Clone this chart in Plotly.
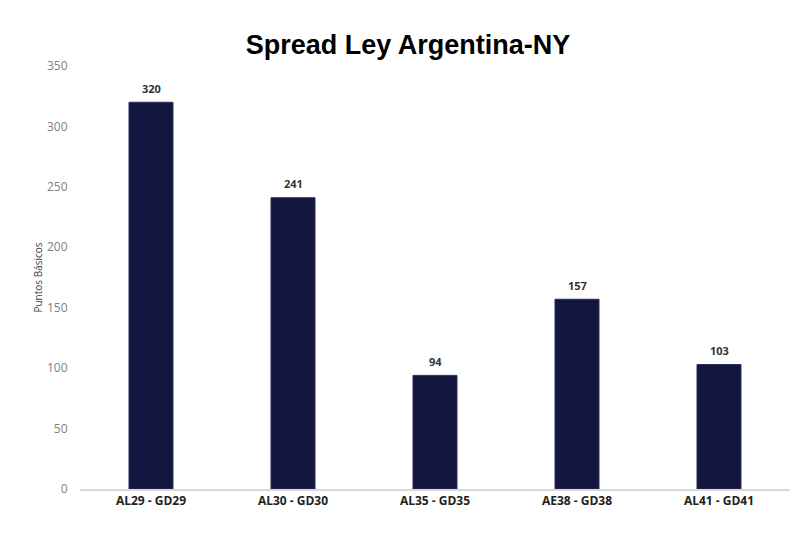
import plotly.graph_objects as go

# Spread ley argentina vs ley NY (puntos basicos)
bonos = ["AL29 - GD29", "AL30 - GD30", "AL35 - GD35", "AE38 - GD38", "AL41 - GD41"]
spread = [320, 241, 94, 157, 103]
y_ticks = [0, 50, 100, 150, 200, 250, 300, 350]

fig = go.Figure()
fig.add_trace(go.Bar(
    x=bonos, y=spread,
    marker=dict(color='#12163f', line=dict(width=1, color='#2a2f5a')),
    width=0.31,
))
# etiquetas de valor arriba de cada barra
for b, v in zip(bonos, spread):
    fig.add_annotation(x=b, y=v, text="<b>%d</b>" % v, showarrow=False,
                       yanchor='middle', yshift=14,
                       font=dict(family='Open Sans', size=11, color='#333333'))

fig.update_layout(
    title=dict(text="<b>Spread Ley Argentina-NY</b>", x=0.5, xanchor='center', y=0.933, yanchor='middle',
               font=dict(family='Liberation Sans', size=27, color='black')),
    width=800,
    height=539,
    margin=dict(l=72, r=18, t=58, b=58),
    plot_bgcolor='white',
    paper_bgcolor='white',
    showlegend=False,
    font=dict(family='Open Sans'),
)
fig.update_xaxes(
    showline=True, linecolor='#d9d9d9', linewidth=1.5,
    showgrid=False, ticks='',
    tickfont=dict(family='Open Sans', size=12, color='#222222', weight='bold'),
)
fig.update_yaxes(
    range=[0, 350], tickvals=y_ticks, showgrid=False, zeroline=False, showline=False,
    tickfont=dict(family='Open Sans', size=12, color='#7f7f7f'),
    ticklen=9, tickcolor='white', ticks='outside',
    title=dict(text="Puntos Básicos", font=dict(family='Open Sans', size=10, color='#404040'), standoff=2),
)
fig.write_html("out.html")
